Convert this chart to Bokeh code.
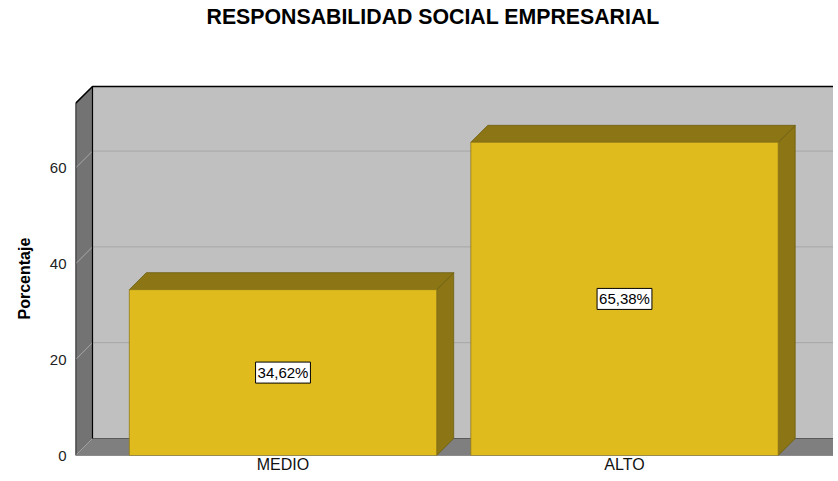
from bokeh.plotting import figure
from bokeh.models import ColumnDataSource, FixedTicker, Range1d, Title
from bokeh.core.properties import value
from bokeh.embed import file_html
from bokeh.resources import INLINE

# ---- data ----
categories = ["MEDIO", "ALTO"]
values = [34.62, 65.38]
value_labels = ["34,62%", "65,38%"]
y_ticks = [0, 20, 40, 60]
wall_top = 73.5
title_text = "RESPONSABILIDAD SOCIAL EMPRESARIAL"
y_label = "Porcentaje"

# ---- layout constants ----
FW, FH = 758, 425
BL = 75
PX_PER_CAT = 341.5
PX_PER_UNIT = 4.79
DEPTH_PX = 17.0
HALF = 0.45

x0 = -(207.5 / PX_PER_CAT)
x1 = x0 + FW / PX_PER_CAT
y1 = FH / PX_PER_UNIT
DX = DEPTH_PX / PX_PER_CAT
DY = DEPTH_PX / PX_PER_UNIT

p = figure(frame_width=FW, frame_height=FH, output_backend="svg", toolbar_location=None,
           x_range=Range1d(x0, x1), y_range=Range1d(0, y1),
           min_border_left=BL, min_border_right=0, min_border_top=0,
           min_border_bottom=0, title=title_text)
p.outline_line_color = None
p.grid.visible = False
p.background_fill_color = "white"

p.title.align = "left"
p.title.offset = 131
p.title.text_font = "Liberation Sans"
p.title.text_font_size = "21.3px"
p.title.text_font_style = "bold"
p.title.text_color = "#000000"
p.title.standoff = 4

# back wall
p.quad(left=[x0 + DX], right=[x1], bottom=[DY], top=[wall_top + DY],
       fill_color="#c0c0c0", line_color=None)
# back wall grid lines
gv = [v for v in y_ticks if v > 0]
p.segment(x0=[x0 + DX] * len(gv), x1=[x1] * len(gv),
          y0=[v + DY for v in gv], y1=[v + DY for v in gv],
          line_color="#a6a6a6", line_width=1)
# left wall
p.patch([x0, x0, x0 + DX, x0 + DX], [0, wall_top, wall_top + DY, DY],
        fill_color="#737373", line_color=None)
p.segment(x0=[x0] * len(gv), x1=[x0 + DX] * len(gv),
          y0=gv, y1=[v + DY for v in gv], line_color="#a8a8a8", line_width=1)
# floor
p.patch([x0, x0 + DX, x1, x1], [0, DY, DY, 0],
        fill_color="#7f7f7f", line_color=None)
p.line([x0, x0 + DX], [0, DY], line_color="#a0a0a0", line_width=1)
p.line([x0 + DX, x1], [DY, DY], line_color="#5a5a5a", line_width=1)
p.line([x0, x1], [0, 0], line_color="#3a3a3a", line_width=1)
# wall edges
p.line([x0 + DX, x0 + DX], [DY, wall_top + DY], line_color="#000000", line_width=1.2)
p.line([x0, x0, x0 + DX, x1], [0, wall_top, wall_top + DY, wall_top + DY],
       line_color="#000000", line_width=1.5)

# bars
xs = list(range(len(categories)))
lefts = [x - HALF for x in xs]
rights = [x + HALF for x in xs]
top_xs = [[l, l + DX, r + DX, r] for l, r in zip(lefts, rights)]
top_ys = [[v, v + DY, v + DY, v] for v in values]
side_xs = [[r, r + DX, r + DX, r] for r in rights]
side_ys = [[0, DY, v + DY, v] for v in values]
p.patches(side_xs, side_ys, fill_color="#8b7514", line_color="#6f5e10", line_width=0.8)
p.patches(top_xs, top_ys, fill_color="#8b7514", line_color="#6f5e10", line_width=0.8)
p.quad(left=lefts, right=rights, bottom=[0] * len(xs), top=values,
       fill_color="#e0bb1e", line_color="#8f7a16", line_width=0.8)

src = ColumnDataSource(dict(x=xs, y=[v / 2 for v in values], t=value_labels))
p.text(x="x", y="y", text="t", source=src, text_align="center",
       text_baseline="middle", text_font=value("Liberation Sans"),
       text_font_size="15px", text_color="#000000",
       background_fill_color="white", border_line_color="#000000",
       border_line_width=1, padding=2)

# axes
p.xaxis.ticker = FixedTicker(ticks=xs)
p.xaxis.major_label_overrides = {i: c for i, c in enumerate(categories)}
p.xaxis.axis_line_color = None
p.xaxis.major_tick_line_color = None
p.xaxis.minor_tick_line_color = None
p.xaxis.major_tick_out = 0
p.xaxis.major_tick_in = 0
p.xaxis.minor_tick_out = 0
p.xaxis.major_label_standoff = 0
p.xaxis.major_label_text_font = "Liberation Sans"
p.xaxis.major_label_text_font_size = "16px"
p.xaxis.major_label_text_color = "#111111"

p.yaxis.ticker = FixedTicker(ticks=y_ticks)
p.yaxis.axis_line_color = None
p.yaxis.major_tick_line_color = None
p.yaxis.minor_tick_line_color = None
p.yaxis.major_tick_out = 0
p.yaxis.major_tick_in = 0
p.yaxis.minor_tick_out = 0
p.yaxis.major_label_standoff = 9
p.yaxis.major_label_text_font = "Liberation Sans"
p.yaxis.major_label_text_font_size = "15px"
p.yaxis.major_label_text_color = "#222222"

ylab = Title(text=y_label, align="left", offset=136, standoff=27,
             text_font="Liberation Sans", text_font_size="16px",
             text_font_style="bold", text_color="#000000")
p.add_layout(ylab, "left")

open("out.html", "w").write(file_html(p, INLINE))
